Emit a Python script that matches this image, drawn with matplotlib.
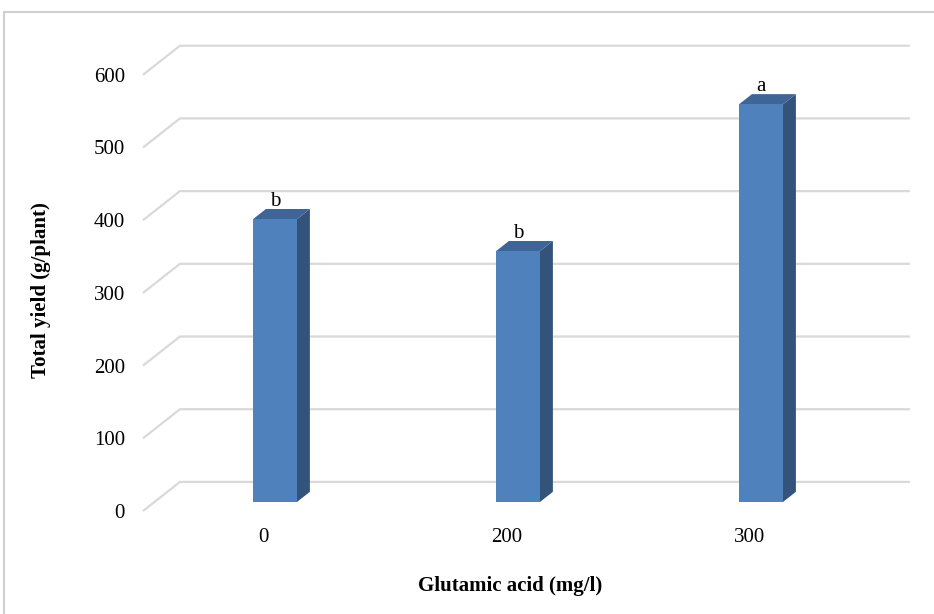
import numpy as np
import matplotlib.pyplot as plt
from matplotlib.patches import Polygon, Rectangle

plt.rcParams['font.family'] = ['Liberation Serif', 'DejaVu Serif']

categories = ['0', '200', '300']
yields = [389, 345, 547]
letters = ['b', 'b', 'a']
yticks = [0, 100, 200, 300, 400, 500, 600]

# pseudo-3D geometry (data units): full floor depth vector
DX, DY = 0.152, 40.0
f_front, f_back = 0.31, 0.66
half_w = 0.0905
x_left, x_right = -0.496, 2.66

c_front = '#4f81bd'
c_side = '#34537a'
c_top = '#3e6595'
c_grid = '#d9d9d9'

fig = plt.figure(figsize=(9.34, 6.14), dpi=100)
# chart border (only top and left edges visible)
fig.add_artist(Rectangle((4 / 934, -0.05), 1.1, 1 - 12 / 614 + 0.05, transform=fig.transFigure,
                         fill=False, edgecolor='#d0d0d0', linewidth=1.5))

ax = fig.add_axes([143 / 934, (614 - 511) / 614, (910 - 143) / 934, (511 - 40) / 614])
ax.set_xlim(x_left, x_left + (910 - 143) / 243)
ax.set_ylim(0, (511 - 40) / 0.727)

# back wall gridlines with floor/left-side diagonals
for v in yticks:
    ax.plot([x_left, x_left + DX, x_right], [v, v + DY, v + DY],
            color=c_grid, linewidth=1.6, solid_capstyle='butt', clip_on=False, zorder=1)

for i, v in enumerate(yields):
    x0 = i - half_w + f_front * DX
    x1 = i + half_w + f_front * DX
    y0 = f_front * DY
    ddx = (f_back - f_front) * DX
    ddy = (f_back - f_front) * DY
    top = y0 + v
    ax.add_patch(Polygon([(x1, y0), (x1 + ddx, y0 + ddy), (x1 + ddx, top + ddy), (x1, top)],
                         closed=True, facecolor=c_side, edgecolor='none', zorder=3))
    ax.add_patch(Polygon([(x0, top), (x1, top), (x1 + ddx, top + ddy), (x0 + ddx, top + ddy)],
                         closed=True, facecolor=c_top, edgecolor='none', zorder=3))
    ax.add_patch(Rectangle((x0, y0), x1 - x0, v, facecolor=c_front, edgecolor='none', zorder=4))
    ax.text((x0 + x1) / 2, top + ddy - 3, letters[i], ha='center', va='bottom',
            fontsize=15, zorder=5)

ax.set_xticks(range(len(categories)))
ax.set_xticklabels(categories, fontsize=15)
ax.set_yticks(yticks)
ax.set_yticklabels([str(t) for t in yticks], fontsize=15)
ax.tick_params(length=0)
ax.tick_params(axis='y', pad=13)
ax.tick_params(axis='x', pad=12)
for s in ax.spines.values():
    s.set_visible(False)

ax.set_xlabel('Glutamic acid (mg/l)', fontsize=15, fontweight='bold')
ax.set_ylabel('Total yield (g/plant)', fontsize=15, fontweight='bold')
ax.xaxis.set_label_coords(0.478, -0.138)
ax.yaxis.set_label_coords(-0.12, 0.469)

fig.savefig('out.png', dpi=100)
